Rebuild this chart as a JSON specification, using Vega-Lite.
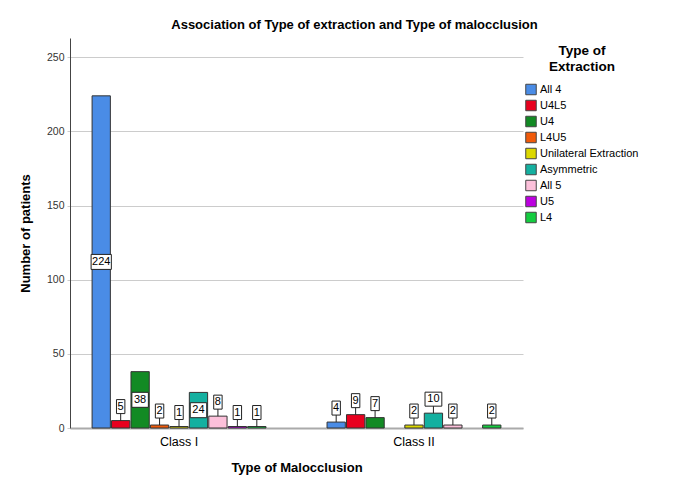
{
  "$schema": "https://vega.github.io/schema/vega-lite/v6.json",
  "autosize": "none",
  "width": 453,
  "height": 390,
  "padding": {"left": 70, "top": 38, "right": 167, "bottom": 62},
  "background": "white",
  "config": {
    "font": "Liberation Sans",
    "view": {"stroke": null}
  },
  "title": {
    "text": "Association of Type of extraction and Type of malocclusion",
    "fontSize": 13,
    "fontWeight": "bold",
    "color": "black",
    "anchor": "middle",
    "dx": 58,
    "offset": 6
  },
  "data": {
    "values": [
      {"cls": "Class I", "type": "All 4", "n": 224},
      {"cls": "Class I", "type": "U4L5", "n": 5},
      {"cls": "Class I", "type": "U4", "n": 38},
      {"cls": "Class I", "type": "L4U5", "n": 2},
      {"cls": "Class I", "type": "Unilateral Extraction", "n": 1},
      {"cls": "Class I", "type": "Asymmetric", "n": 24},
      {"cls": "Class I", "type": "All 5", "n": 8},
      {"cls": "Class I", "type": "U5", "n": 1},
      {"cls": "Class I", "type": "L4", "n": 1},
      {"cls": "Class II", "type": "All 4", "n": 4},
      {"cls": "Class II", "type": "U4L5", "n": 9},
      {"cls": "Class II", "type": "U4", "n": 7},
      {"cls": "Class II", "type": "Unilateral Extraction", "n": 2},
      {"cls": "Class II", "type": "Asymmetric", "n": 10},
      {"cls": "Class II", "type": "All 5", "n": 2},
      {"cls": "Class II", "type": "L4", "n": 2}
    ]
  },
  "encoding": {
    "x": {
      "field": "cls",
      "type": "nominal",
      "scale": {"paddingInner": 0.26, "paddingOuter": 0.094},
      "axis": {
        "title": "Type of Malocclusion",
        "titleFontSize": 13,
        "titleFontWeight": "bold",
        "titleColor": "black",
        "titlePadding": 14,
        "labelAngle": 0,
        "labelFontSize": 12.5,
        "labelColor": "black",
        "labelPadding": 7,
        "ticks": false,
        "domainColor": "#aaaaaa",
        "domainWidth": 2
      }
    },
    "xOffset": {
      "field": "type",
      "type": "nominal",
      "scale": {
        "domain": ["All 4", "U4L5", "U4", "L4U5", "Unilateral Extraction", "Asymmetric", "All 5", "U5", "L4"],
        "paddingInner": 0.06
      }
    }
  },
  "layer": [
    {
      "layer": [
        {
          "mark": {"type": "bar", "stroke": "#333333", "strokeWidth": 1},
          "encoding": {
            "y": {
              "field": "n",
              "type": "quantitative",
              "scale": {"domain": [0, 263], "nice": false},
              "axis": {
                "title": "Number of patients",
                "titleFontSize": 13,
                "titleFontWeight": "bold",
                "titleColor": "black",
                "titlePadding": 14,
                "values": [0, 50, 100, 150, 200, 250],
                "labelFontSize": 10.5,
                "labelColor": "#333333",
                "labelPadding": 3,
                "grid": true,
                "gridColor": "#cccccc",
                "tickColor": "#cccccc",
                "tickSize": 3,
                "domainColor": "#444444"
              }
            },
            "color": {
              "field": "type",
              "type": "nominal",
              "scale": {
                "domain": ["All 4", "U4L5", "U4", "L4U5", "Unilateral Extraction", "Asymmetric", "All 5", "U5", "L4"],
                "range": ["#4a8ce6", "#e8001e", "#128a24", "#f05a0a", "#dcd800", "#14b0a0", "#fcc0da", "#bc00e0", "#14cc40"]
              },
              "legend": {
                "title": ["Type of", "Extraction"],
                "titleFontSize": 13.5,
                "titleFontWeight": "bold",
                "titleColor": "black",
                "titleAnchor": "middle",
                "titleAlign": "center",
                "titleLineHeight": 16,
                "titlePadding": 10,
                "orient": "none",
                "legendX": 455,
                "legendY": 6,
                "symbolType": "square",
                "symbolSize": 110,
                "symbolStrokeColor": "#444444",
                "symbolStrokeWidth": 1,
                "labelFontSize": 11,
                "labelColor": "black",
                "labelOffset": 3,
                "rowPadding": 0
              }
            }
          }
        },
        {
          "transform": [{"filter": "datum.n < 20"}],
          "mark": {"type": "rule", "color": "#222222", "strokeWidth": 1, "y2Offset": -10},
          "encoding": {
            "y": {"field": "n", "type": "quantitative"},
            "y2": {"field": "n"}
          }
        },
        {
          "transform": [{"filter": "datum.n < 20"}],
          "mark": {"type": "point", "filled": true, "fill": "white", "stroke": "#222222", "strokeWidth": 1, "opacity": 1, "size": 196, "yOffset": -14},
          "encoding": {
            "y": {"field": "n", "type": "quantitative"},
            "shape": {
              "condition": {"test": "datum.n >= 10", "value": "M-1.2,-1H1.2V1H-1.2Z"},
              "value": "M-0.6,-1H0.6V1H-0.6Z"
            }
          }
        },
        {
          "transform": [{"filter": "datum.n < 20"}],
          "mark": {"type": "text", "fontSize": 11, "color": "black", "baseline": "middle", "yOffset": -14},
          "encoding": {
            "y": {"field": "n", "type": "quantitative"},
            "text": {"field": "n", "type": "quantitative"}
          }
        }
      ]
    },
    {
      "transform": [{"filter": "datum.n >= 20"}],
      "layer": [
        {
          "mark": {"type": "point", "filled": true, "fill": "white", "stroke": "#222222", "strokeWidth": 1, "opacity": 1, "size": 225},
          "encoding": {
            "y": {"field": "n", "type": "quantitative", "scale": {"domain": [0, 526], "nice": false}, "axis": null},
            "shape": {
              "condition": {"test": "datum.n >= 100", "value": "M-1.35,-1H1.35V1H-1.35Z"},
              "value": "M-1.1,-1H1.1V1H-1.1Z"
            }
          }
        },
        {
          "mark": {"type": "text", "fontSize": 11, "color": "black", "baseline": "middle"},
          "encoding": {
            "y": {"field": "n", "type": "quantitative", "scale": {"domain": [0, 526], "nice": false}, "axis": null},
            "text": {"field": "n", "type": "quantitative"}
          }
        }
      ]
    }
  ],
  "resolve": {"scale": {"y": "independent"}}
}
